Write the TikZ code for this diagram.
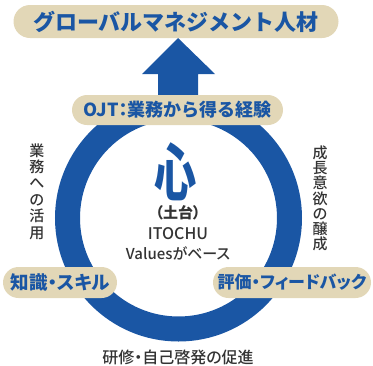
\documentclass[tikz,border=0pt]{standalone}
\usepackage{fontspec}
\setmainfont{Noto Sans CJK JP}
\newfontfamily\medf{Noto Sans CJK JP Medium}
\usetikzlibrary{shapes.misc,calc}
\definecolor{ibl}{HTML}{1A56A4}
\definecolor{pillc}{HTML}{E2D7B7}
\definecolor{txt}{HTML}{333333}
\newcommand{\paltf}{\addfontfeature{RawFeature=+palt}}
\tikzset{
  pillbox/.style={rounded rectangle, fill=pillc, inner sep=0pt, text=ibl, font=\bfseries},
  vtext/.style={align=center, text=txt, inner sep=0pt},
  ctext/.style={text=txt, inner sep=0pt},
}
\begin{document}
\begin{tikzpicture}[x=1pt,y=-1pt]
\useasboundingbox (0,0) rectangle (373,365);
% ring
\node[circle, draw=ibl, line width=25pt, minimum size=222pt, inner sep=0pt] (ring) at (178.5,218) {};
% arrow
\coordinate (tip) at (178,38);
\fill[ibl] (tip) -- (215,74) -- (198,74) -- (198,110) -- (158,110) -- (158,74) -- (142,74) -- cycle;
% pills
\node[pillbox, minimum width=325pt, minimum height=33pt, font=\bfseries\fontsize{22}{22}\selectfont] (top) at (176,21.5) {グローバルマネジメント人材};
\node[pillbox, minimum width=211pt, minimum height=30pt, font=\bfseries\fontsize{18}{18}\selectfont] (ojt) at (177.5,110) {OJT{\paltf ：}業務から得る経験};
\node[pillbox, minimum width=114pt, minimum height=31pt, font=\bfseries\fontsize{18.5}{18.5}\selectfont\paltf] (skill) at (60,282.5) {知識・スキル};
\node[pillbox, minimum width=158pt, minimum height=31pt, font=\bfseries\fontsize{17}{17}\selectfont\paltf] (fb) at (292,282.5) {評価・フィードバック};
% vertical texts
\node[vtext, font=\medf\fontsize{15}{16.4}\selectfont] (left) at (37,191.5) {業\\務\\へ\\の\\活\\用};
\node[vtext, font=\medf\fontsize{15}{15.2}\selectfont] (right) at (320,198.5) {成\\長\\意\\欲\\の\\醸\\成};
% center
\node[ctext, text=ibl, font=\bfseries\fontsize{62}{62}\selectfont, xscale=0.68] (kokoro) at (176,172) {心};
\node[ctext, font=\bfseries\fontsize{15}{15}\selectfont\paltf] (dodai) at (178,212.5) {（土台）};
\node[ctext, font=\medf\fontsize{16}{16}\selectfont] (itochu) at (178,234) {ITOCHU};
\node[ctext, font=\medf\fontsize{15}{15}\selectfont\paltf] (values) at (178,253) {Valuesがベース};
\node[ctext, font=\medf\fontsize{16}{16}\selectfont\paltf] (bottom) at (178,357) {研修・自己啓発の促進};
\end{tikzpicture}
\end{document}
